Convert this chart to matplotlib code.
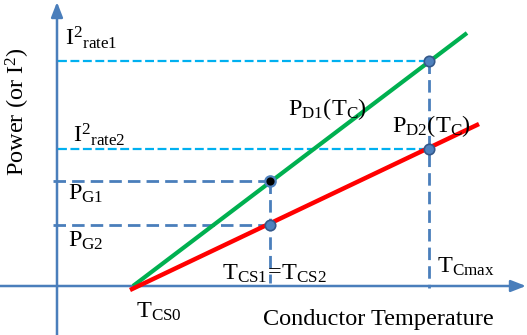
import matplotlib
matplotlib.use("Agg")
import matplotlib.pyplot as plt

plt.rcParams['font.family'] = ['Liberation Serif', 'DejaVu Serif']
plt.rcParams['mathtext.fontset'] = 'custom'
plt.rcParams['mathtext.rm'] = 'Liberation Serif'
plt.rcParams['mathtext.it'] = 'Liberation Serif:italic'

# ---- schematic data (arbitrary units) ----
T_CS0 = 76
T_CS1 = 213
T_Cmax = 372
P_G1 = 105
P_G2 = 61
I2_rate1 = 225
I2_rate2 = 137

green_T = [76, 410]      # P_D1(T_C)
green_P = [0, 253]
red_T = [73, 422]        # P_D2(T_C)
red_P = [-4, 162]

marker_T = [T_Cmax, T_Cmax, T_CS1]
marker_P = [I2_rate1, I2_rate2, P_G2]

C_AX = '#4A7EBB'
C_CY = '#00B0F0'
C_GR = '#00B050'
C_RD = '#FF0000'

fig = plt.figure(figsize=(5.27, 3.35), dpi=100)
ax = fig.add_axes([0, 0, 1, 1])
ax.set_xlim(-57, 470)
ax.set_ylim(-49, 286)
ax.axis('off')

# axes arrows
ax.annotate('', xy=(469, 0), xytext=(-57, 0),
            arrowprops=dict(arrowstyle='-|>,head_length=0.9,head_width=0.35',
                            color=C_AX, lw=1.8, shrinkA=0, shrinkB=0))
ax.annotate('', xy=(0, 284), xytext=(0, -49),
            arrowprops=dict(arrowstyle='-|>,head_length=0.9,head_width=0.35',
                            color=C_AX, lw=1.8, shrinkA=0, shrinkB=0))

# cyan dashed levels
ax.plot([1, T_Cmax], [I2_rate1, I2_rate1], color=C_CY, lw=1.6, dashes=(4, 1.6), zorder=2)
ax.plot([1, T_Cmax], [I2_rate2, I2_rate2], color=C_CY, lw=1.6, dashes=(4, 1.6), zorder=2)

# blue dashed guide lines
ax.plot([-4, T_CS1], [P_G1, P_G1], color=C_AX, lw=2, dashes=(4.5, 2.2), zorder=2)
ax.plot([-4, T_CS1], [P_G2, P_G2], color=C_AX, lw=2, dashes=(4.5, 2.2), zorder=2)
ax.plot([T_CS1, T_CS1], [P_G1, 3], color=C_AX, lw=2, dashes=(4.5, 2.2), zorder=2)
ax.plot([T_Cmax, T_Cmax], [I2_rate1, -2], color=C_AX, lw=2, dashes=(4.5, 2.2), zorder=2)

# characteristic lines
ax.plot(green_T, green_P, color=C_GR, lw=3, solid_capstyle='butt', zorder=3)
ax.plot(red_T, red_P, color=C_RD, lw=3.2, solid_capstyle='butt', zorder=3)

# markers
ax.plot(marker_T, marker_P, 'o', ms=7.5, mfc='#4F81BD', mec='#34588A', mew=1.2, zorder=5)
ax.plot([T_CS1], [P_G1], 'o', ms=7.5, mfc='black', mec='#4F81BD', mew=1.6, zorder=5)

fs = 17.5
def T(px, py, s, **kw):
    ax.text(px - 57, 286 - py, s, fontsize=fs, ha='left', va='baseline', **kw)

T(65, 45, r'$\mathrm{I^{2}{}_{rate1}}$')
T(73, 142, r'$\mathrm{I^{2}{}_{rate2}}$')
T(68, 200, r'$\mathrm{P_{G1}}$')
T(68, 247, r'$\mathrm{P_{G2}}$')
T(288, 115, r'$\mathrm{P_{D1}(T_{C})}$')
T(392, 132, r'$\mathrm{P_{D2}(T_{C})}$')
T(222, 280, r'$\mathrm{T_{CS1}\!=\!T_{CS2}}$')
T(437, 273, r'$\mathrm{T_{Cmax}}$')
T(136, 318, r'$\mathrm{T_{CS0}}$')
T(263, 325, 'Conductor Temperature')
ax.text(18 - 57, 286 - 112, r'Power (or I$^{2}$)', fontsize=fs, rotation=90,
        ha='center', va='center')

fig.savefig('out.png', dpi=100)
